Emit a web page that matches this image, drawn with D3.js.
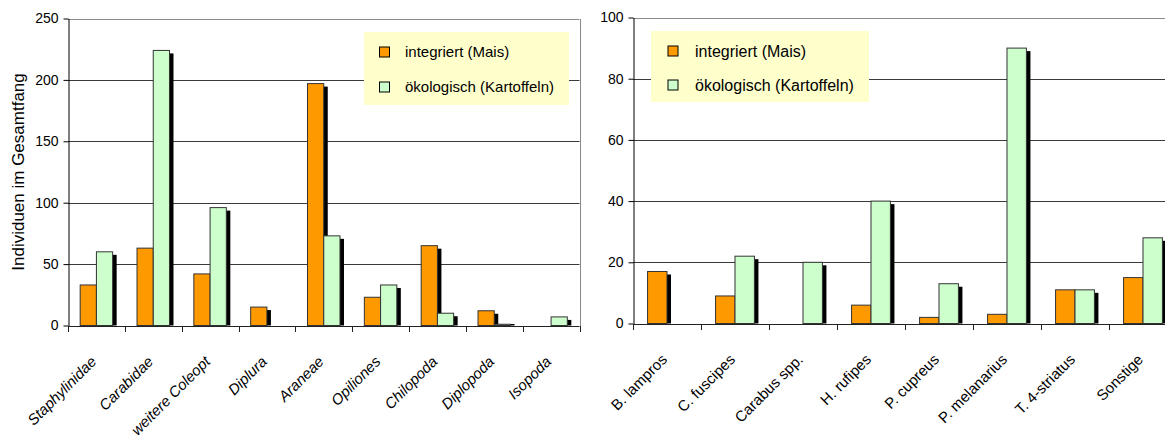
<!DOCTYPE html>
<html>
<head>
<meta charset="utf-8">
<script src="https://cdn.jsdelivr.net/npm/d3@7"></script>
<style>
  html, body { margin: 0; padding: 0; background: #ffffff; }
  svg { display: block; font-family: "Liberation Sans", Arial, sans-serif; }
</style>
</head>
<body>
<svg id="chart" width="1165" height="437"></svg>
<script>
// Series names
const seriesNames = ["integriert (Mais)", "ökologisch (Kartoffeln)"];
const seriesColors = ["#FF9900", "#CCFFCC"];

// Left panel: arthropod groups
const leftCategories = ["Staphylinidae", "Carabidae", "weitere Coleopt", "Diplura", "Araneae",
                        "Opiliones", "Chilopoda", "Diplopoda", "Isopoda"];
const leftIntegriert = [33, 63, 42, 15, 197, 23, 65, 12, 0];
const leftOekologisch = [60, 224, 96, 0, 73, 33, 10, 1, 7];
const leftTicks = [0, 50, 100, 150, 200, 250];

// Right panel: carabid species
const rightCategories = ["B. lampros", "C. fuscipes", "Carabus spp.", "H. rufipes", "P. cupreus",
                         "P. melanarius", "T. 4-striatus", "Sonstige"];
const rightIntegriert = [17, 9, 0, 6, 2, 3, 11, 15];
const rightOekologisch = [0, 22, 20, 40, 13, 90, 11, 28];
const rightTicks = [0, 20, 40, 60, 80, 100];

const svg = d3.select("#chart");

function drawPanel(cfg) {
  const g = svg.append("g");
  const x = d3.scaleBand().domain(cfg.categories).range([cfg.x0, cfg.x1]).padding(0);
  const y = d3.scaleLinear().domain([0, cfg.yMax]).range([cfg.yBottom, cfg.yTop]);
  const step = x.step();
  const bw = step / 3.5;
  const off = (step - 2 * bw) / 2;

  // horizontal gridlines
  g.append("g").selectAll("line").data(cfg.ticks.filter(t => t > 0)).join("line")
    .attr("x1", cfg.x0).attr("x2", cfg.gridEnd)
    .attr("y1", d => Math.round(y(d)) + 0.5).attr("y2", d => Math.round(y(d)) + 0.5)
    .attr("stroke", d => d === cfg.yMax ? "#8a8a8a" : "#3a3a3a").attr("stroke-width", 1);

  // plot area right border
  if (cfg.rightBorder) {
    g.append("line")
      .attr("x1", Math.round(cfg.x1) + 0.5).attr("x2", Math.round(cfg.x1) + 0.5)
      .attr("y1", Math.round(y(cfg.yMax))).attr("y2", Math.round(cfg.yBottom) + 1)
      .attr("stroke", "#8a8a8a").attr("stroke-width", 1);
  }

  // bars with drop shadows
  const series = [cfg.integriert, cfg.oekologisch];
  const dx = 4, dy = 3;
  series.forEach((vals, si) => {
    const data = cfg.categories.map((c, i) => ({ c, v: vals[i] }));
    const bx = d => x(d.c) + off + si * bw;
    g.append("g").selectAll("rect").data(data.filter(d => d.v > 0)).join("rect")
      .attr("x", d => bx(d) + dx)
      .attr("y", d => Math.min(y(d.v) + dy, cfg.yBottom - 1.5))
      .attr("width", bw)
      .attr("height", d => Math.max(cfg.yBottom - y(d.v) - dy, 1.5))
      .attr("fill", "#000");
    g.append("g").selectAll("rect").data(data.filter(d => d.v > 0)).join("rect")
      .attr("x", bx)
      .attr("y", d => y(d.v))
      .attr("width", bw)
      .attr("height", d => cfg.yBottom - y(d.v))
      .attr("fill", seriesColors[si])
      .attr("stroke", "#333").attr("stroke-width", 1);
  });

  // y axis
  const yAxis = g.append("g").attr("transform", `translate(${Math.round(cfg.x0) + 0.5},0)`)
    .call(d3.axisLeft(y).tickValues(cfg.ticks).tickSize(5).tickPadding(5).tickSizeOuter(0));
  yAxis.select(".domain").attr("stroke", "#000");
  yAxis.selectAll(".tick line").attr("stroke", "#000");
  yAxis.selectAll("text").attr("font-size", "14px").attr("fill", "#000")
    .attr("font-family", "Liberation Sans, Arial, sans-serif");

  // x axis line and category separators
  g.append("line")
    .attr("x1", cfg.x0).attr("x2", cfg.gridEnd)
    .attr("y1", Math.round(cfg.yBottom) + 0.5).attr("y2", Math.round(cfg.yBottom) + 0.5)
    .attr("stroke", "#222");
  const bounds = d3.range(cfg.categories.length + 1).map(i => cfg.x0 + i * step);
  g.append("g").selectAll("line").data(bounds).join("line")
    .attr("x1", d => Math.round(d) + 0.5).attr("x2", d => Math.round(d) + 0.5)
    .attr("y1", Math.round(cfg.yBottom)).attr("y2", Math.round(cfg.yBottom) + 6)
    .attr("stroke", "#222");

  // rotated category labels
  g.append("g").selectAll("text").data(cfg.categories).join("text")
    .attr("transform", d => `translate(${x(d) + step / 2 + cfg.labDx},${cfg.yBottom + cfg.labDy}) rotate(-45)`)
    .attr("text-anchor", "end")
    .attr("font-size", "15px")
    .attr("font-style", cfg.italic ? "italic" : "normal")
    .attr("fill", "#000")
    .text(d => d);

  // legend
  const lg = g.append("g").attr("transform", `translate(${cfg.legend.x},${cfg.legend.y})`);
  lg.append("rect").attr("width", cfg.legend.w).attr("height", cfg.legend.h).attr("fill", "#FFFFCC");
  seriesNames.forEach((name, i) => {
    const cy = cfg.legend.row0 + i * cfg.legend.rowGap;
    lg.append("rect")
      .attr("x", cfg.legend.mx).attr("y", cy - 5)
      .attr("width", 10).attr("height", 10)
      .attr("fill", seriesColors[i]).attr("stroke", "#000").attr("stroke-width", 1);
    lg.append("text")
      .attr("x", cfg.legend.tx).attr("y", cy)
      .attr("dy", "0.35em")
      .attr("font-size", cfg.legend.fs + "px")
      .attr("fill", "#000")
      .text(name);
  });
  return { x, y };
}

drawPanel({
  categories: leftCategories, integriert: leftIntegriert, oekologisch: leftOekologisch,
  ticks: leftTicks, yMax: 250,
  x0: 68, x1: 579.5, gridEnd: 579.5, yBottom: 325.5, yTop: 18.5,
  rightBorder: true, italic: true, labDx: 1, labDy: 37,
  legend: { x: 364, y: 32, w: 205, h: 73, mx: 15.5, tx: 41, row0: 20, rowGap: 35, fs: 15 }
});

drawPanel({
  categories: rightCategories, integriert: rightIntegriert, oekologisch: rightOekologisch,
  ticks: rightTicks, yMax: 100,
  x0: 633, x1: 1177, gridEnd: 1165, yBottom: 323.5, yTop: 17.5,
  rightBorder: false, italic: false, labDx: 1, labDy: 37,
  legend: { x: 651, y: 31, w: 218, h: 71, mx: 17, tx: 44, row0: 20, rowGap: 34, fs: 16 }
});

// y axis title
svg.append("text")
  .attr("transform", "translate(24,172) rotate(-90)")
  .attr("text-anchor", "middle")
  .attr("font-size", "17px")
  .attr("fill", "#000")
  .text("Individuen im Gesamtfang");
</script>
</body>
</html>
